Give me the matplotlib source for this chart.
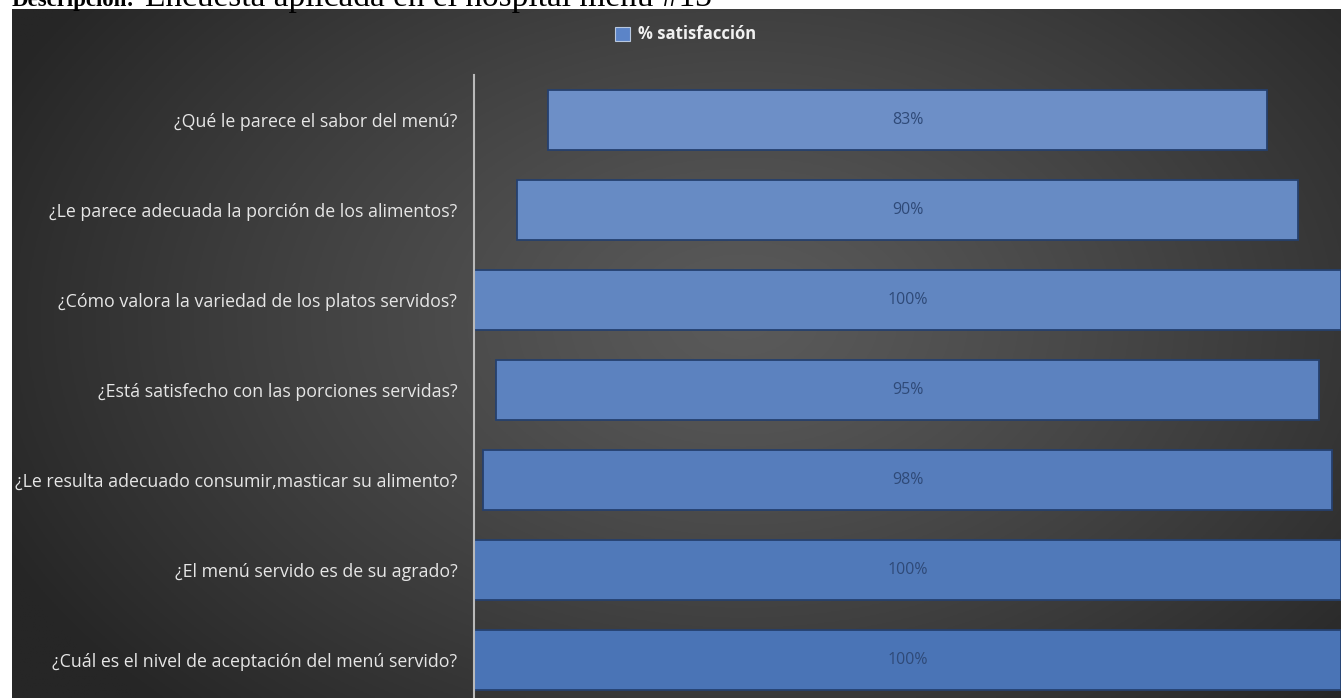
import numpy as np
import matplotlib
matplotlib.use("Agg")
from matplotlib import pyplot as plt
from matplotlib.colors import to_rgb
from matplotlib.patches import Rectangle

preguntas = [
    "¿Qué le parece el sabor del menú?",
    "¿Le parece adecuada la porción de los alimentos?",
    "¿Cómo valora la variedad de los platos servidos?",
    "¿Está satisfecho con las porciones servidas?",
    "¿Le resulta adecuado consumir,masticar su alimento?",
    "¿El menú servido es de su agrado?",
    "¿Cuál es el nivel de aceptación del menú servido?",
]
satisfaccion = [83, 90, 100, 95, 98, 100, 100]
etiquetas = ["83%", "90%", "100%", "95%", "98%", "100%", "100%"]

W, H = 1341, 698
fig = plt.figure(figsize=(W / 100, H / 100), dpi=100, facecolor="white")

# dark radial background of the chart area
bg = fig.add_axes([12 / W, 0, 1 - 12 / W, 1 - 9 / H])
bg.set_axis_off()
yy, xx = np.mgrid[0:1:300j, 0:1:600j]
r = np.sqrt(((xx - 0.55) / 0.62) ** 2 + ((yy - 0.45) / 0.8) ** 2)
r = np.clip(r, 0, 1) ** 1.2
c_in, c_out = np.array(to_rgb("#5a5a5a")), np.array(to_rgb("#262626"))
img = c_in[None, None, :] * (1 - r[..., None]) + c_out[None, None, :] * r[..., None]
bg.imshow(img, aspect="auto", extent=[0, 1, 0, 1], origin="upper")
bg.set_xlim(0, 1)
bg.set_ylim(0, 1)

# caption line, cut by the top edge
fig.text(12 / W, 1 - 6 / H, "Descripción:", fontsize=16.5, fontweight="bold",
         family="Liberation Serif", va="baseline", ha="left", color="black")
fig.text(145 / W, 1 - 6 / H, "Encuesta aplicada en el hospital menú #13", fontsize=24,
         family="Liberation Serif", va="baseline", ha="left", color="black")

ax = fig.add_axes([474 / W, 0, 1 - 474 / W, 1 - 75 / H])
ax.patch.set_alpha(0)
pos = np.arange(len(preguntas))
tops = np.array(to_rgb("#6d8fc7"))
bots = np.array(to_rgb("#4a74b6"))
colores = [tops + (bots - tops) * i / (len(pos) - 1) for i in pos]
izq = [50 - v / 2 for v in satisfaccion]
ax.barh(pos, satisfaccion, left=izq, height=0.667, color=colores,
        edgecolor="#25406e", linewidth=1.3)
for p, v, t in zip(pos, satisfaccion, etiquetas):
    ax.text(50, p, t, ha="center", va="center", fontsize=11.5,
            family="Open Sans", color="#2f4a78")

ax.set_xlim(0, 100)
ax.set_ylim((H - 120) / 90, -0.5)
ax.set_yticks(pos)
ax.set_yticklabels(preguntas, family="Open Sans", fontsize=12.8, color="#e6e6e6")
ax.tick_params(axis="y", length=0, pad=12)
ax.set_xticks([])
for s in ["top", "right", "bottom"]:
    ax.spines[s].set_visible(False)
ax.spines["left"].set_color("#b9b9b9")
ax.spines["left"].set_linewidth(1.5)

# legend
fig.patches.append(Rectangle((615 / W, 1 - 41 / H), 15 / W, 14 / H, transform=fig.transFigure,
                             facecolor="#5b84c8", edgecolor="#b8c8e0", linewidth=0.8))
fig.text(638 / W, 1 - 34 / H, "% satisfacción", fontsize=12, family="Open Sans",
         fontweight="bold", color="#f0f0f0", va="center", ha="left")

fig.savefig("out.png", dpi=100, facecolor="white")
